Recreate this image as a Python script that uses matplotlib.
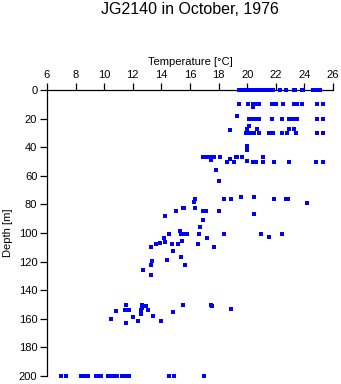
import matplotlib.pyplot as plt

# temperature [degC] / depth [m] pairs
temperatura = [
    19.4, 19.7, 19.85, 20.0, 20.2, 20.5, 20.6, 20.75, 20.9, 21.1, 21.3, 21.5, 21.65, 21.8,
    22.3, 22.7, 23.25, 23.35, 23.8, 23.9, 24.6, 24.9, 25.1,
    19.4, 20.05, 20.4, 20.55, 20.7, 20.85, 21.7, 22.0, 22.5, 23.3, 23.45, 23.8, 24.9, 25.3, 20.4,
    19.3, 20.1, 20.4, 20.55, 20.7, 20.8, 21.7, 22.4, 22.9, 23.1, 23.3, 23.5, 24.9, 25.3,
    20.1, 18.8, 20.0, 22.9, 23.3, 20.7,
    19.9, 20.1, 20.3, 20.5, 20.8, 21.5, 21.8, 22.4, 22.8, 23.4, 24.9, 25.3,
    20.0, 20.0,
    16.9, 17.2, 17.45, 17.6, 17.7, 18.1, 18.8, 19.2, 19.3, 19.65, 20.0, 21.1, 17.45,
    18.6, 19.1, 20.4, 20.5, 20.65, 21.1, 21.9, 22.9, 24.8, 25.3,
    17.8, 18.0,
    19.6, 20.5, 16.35, 18.4, 18.9, 21.9, 22.7, 22.85, 16.3, 24.2,
    15.5, 15.6, 16.35, 15.0, 16.9, 17.0, 17.15, 18.0,
    14.25, 20.5, 16.9, 16.7,
    15.3, 14.5, 15.4, 15.65, 15.8, 16.6, 18.4, 20.95, 22.4,
    14.2, 17.2, 21.5,
    13.9, 13.65, 14.75, 15.15, 16.55, 14.25, 15.45,
    17.7, 13.25, 14.8, 15.4, 14.4, 13.35, 13.25, 15.65, 12.7, 13.3,
    11.55, 12.65, 15.5, 17.45, 12.9, 17.55, 18.9,
    11.45, 11.6, 11.7, 12.6, 13.05, 12.65, 10.8, 14.8, 12.6, 12.0, 13.4, 10.5,
    12.35, 14.0, 11.55,
    6.96, 7.3, 8.36, 8.6, 8.87, 9.4, 9.57, 9.75, 10.27, 10.45, 10.69, 10.87,
    11.27, 11.5, 11.73, 14.5, 14.88, 17.0,
]
profondita = [
    0, 0, 0, 0, 0, 0, 0, 0, 0, 0, 0, 0, 0, 0,
    0, 0, 0, 0, 0, 0, 0, 0, 0,
    10, 10, 10, 10, 10, 10, 10, 10, 10, 10, 10, 10, 10, 10, 12,
    18.5, 20, 20, 20, 20, 20, 20, 20, 20, 20, 20, 20, 20, 20,
    25, 28, 27, 27, 27, 27.5,
    30, 30, 30, 30, 30, 30, 30, 30, 30, 30, 30, 30,
    39, 42,
    47, 47, 47, 47, 47, 47, 48.5, 47, 47, 47, 49.6, 47, 49,
    50, 50, 50, 50, 50, 50, 50, 50, 50, 50,
    56, 63.8,
    75, 75, 76, 76, 76, 76, 76, 76, 78, 79,
    82.5, 82.5, 82.5, 84.5, 84.5, 84.5, 84.5, 84.5,
    87.9, 86.9, 91, 96,
    98.8, 100.7, 100.7, 100.7, 100.7, 100.7, 100.7, 100.7, 100.7,
    103.7, 103.7, 103,
    106.8, 108, 108, 108, 108, 106, 105.8,
    110, 110, 112.8, 117, 119, 119.8, 122.6, 122.6, 125.7, 129.6,
    150, 150, 150, 150, 151, 151, 153,
    153.6, 153.6, 153.6, 153.6, 153.6, 152.7, 154.7, 155, 156.8, 158.6, 157.7, 159.8,
    161.7, 161.7, 162.6,
    200, 200, 200, 200, 200, 200, 200, 200, 200, 200, 200, 200,
    200, 200, 200, 200, 200, 200,
]
tick_temp = [6, 8, 10, 12, 14, 16, 18, 20, 22, 24, 26]
tick_prof = [0, 20, 40, 60, 80, 100, 120, 140, 160, 180, 200]

plt.rcParams['font.family'] = ['Liberation Sans', 'DejaVu Sans']

fig = plt.figure(figsize=(3.41, 3.84), dpi=100)
ax = fig.add_axes([47 / 341, 1 - 376 / 384, 286 / 341, 286 / 384])

ax.plot(temperatura, profondita, linestyle='none', marker='s', markersize=2.3,
        color='#0000ff', markeredgewidth=0, clip_on=False, zorder=5)

ax.set_xlim(6, 26)
ax.set_ylim(200, 0)
ax.set_xticks(tick_temp)
ax.set_yticks(tick_prof)
ax.xaxis.tick_top()
ax.xaxis.set_label_position('top')
ax.spines['right'].set_visible(False)
ax.spines['bottom'].set_visible(False)
for s in ('left', 'top'):
    ax.spines[s].set_linewidth(0.9)
ax.tick_params(direction='out', length=5, width=0.9, labelsize=8, pad=2)
ax.set_xlabel('Temperature [°C]', fontsize=8, labelpad=4)
ax.set_ylabel('Depth [m]', fontsize=8, labelpad=4)

# titolo centrato sopra gli assi
fig.text(190 / 341, 1 - 9 / 384, 'JG2140 in October, 1976', ha='center', va='center', fontsize=11.5)

fig.savefig('out.png', dpi=100)
